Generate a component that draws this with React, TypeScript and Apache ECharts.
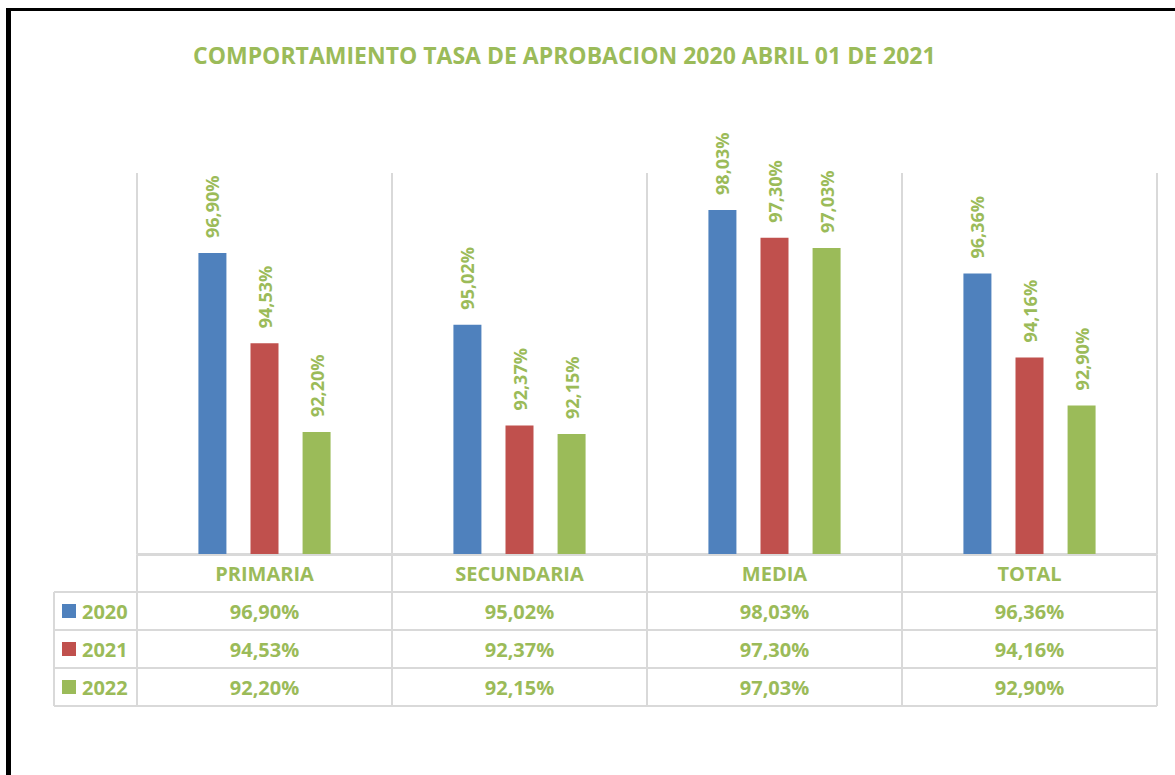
import React, { useEffect, useRef } from "react";
import * as echarts from "echarts";

const TITLE = "COMPORTAMIENTO TASA DE APROBACION 2020 ABRIL 01 DE 2021";
const categories = ["PRIMARIA", "SECUNDARIA", "MEDIA", "TOTAL"];
const years = ["2020", "2021", "2022"];
const values2020 = [96.9, 95.02, 98.03, 96.36];
const values2021 = [94.53, 92.37, 97.3, 94.16];
const values2022 = [92.2, 92.15, 97.03, 92.9];
const seriesValues = [values2020, values2021, values2022];

const COLORS = ["#4F81BD", "#C0504D", "#9BBB59"];
const TEXT_GREEN = "#9BBB59";
const GRID_GREY = "#D9D9D9";
const FONT = "'Open Sans', sans-serif";

const fmt = (v: number) => v.toFixed(2).replace(".", ",") + "%";

export default function App() {
  const ref = useRef<HTMLDivElement>(null);
  useEffect(() => {
    document.body.style.margin = "0";
    const chart = echarts.init(ref.current!, null, { renderer: "svg" });
    const gridLeft = 137;
    const gridTop = 173;
    const gridBottomY = 554;
    const gridRight = 1157;
    chart.setOption({
      animation: false,
      backgroundColor: "#ffffff",
      title: {
        text: TITLE,
        left: 188,
        top: 38,
        textStyle: { color: TEXT_GREEN, fontFamily: FONT, fontWeight: "bold", fontSize: 23 },
      },
      grid: {
        left: gridLeft,
        top: gridTop,
        width: gridRight - gridLeft,
        height: gridBottomY - gridTop,
        containLabel: false,
      },
      xAxis: {
        type: "category",
        data: categories,
        boundaryGap: true,
        axisLine: { show: true, lineStyle: { color: GRID_GREY, width: 2 } },
        axisTick: { show: false },
        axisLabel: {
          show: true,
          margin: 8,
          color: TEXT_GREEN,
          fontFamily: FONT,
          fontWeight: "bold",
          fontSize: 20,
          lineHeight: 22,
        },
        splitLine: { show: true, lineStyle: { color: GRID_GREY, width: 2 } },
      },
      yAxis: {
        type: "value",
        min: 89,
        max: 99,
        show: false,
        splitLine: { show: false },
      },
      series: years.map((y, i) => ({
        name: y,
        type: "bar",
        data: seriesValues[i],
        barWidth: 28,
        barGap: "86%",
        itemStyle: { color: COLORS[i] },
        label: {
          show: true,
          position: "top",
          rotate: 90,
          align: "left",
          verticalAlign: "middle",
          distance: 15,
          color: TEXT_GREEN,
          fontFamily: FONT,
          fontWeight: "bold",
          fontSize: 18,
          formatter: (p: any) => fmt(p.value),
        },
      })),
    });

    // data table built from the axis' own pixel positions
    const centers = categories.map((c) => chart.convertToPixel({ xAxisIndex: 0 }, c) as number);
    const band = centers.length > 1 ? centers[1] - centers[0] : 255;
    const left = centers[0] - band / 2;
    const right = centers[centers.length - 1] + band / 2;
    const headTop = gridBottomY + 1;
    const rowYs = [592, 630, 668, 706];
    const legendLeft = 54;
    const lineStyle = { stroke: GRID_GREY, lineWidth: 2 };
    const g: any[] = [];
    // frame
    g.push({ type: "rect", shape: { x: 6, y: 8, width: 5, height: 775 }, style: { fill: "#000" }, silent: true });
    g.push({ type: "rect", shape: { x: 6, y: 8, width: 1175, height: 3 }, style: { fill: "#000" }, silent: true });
    // horizontal lines
    g.push({ type: "line", shape: { x1: left, y1: headTop, x2: right, y2: headTop }, style: lineStyle });
    rowYs.forEach((y) =>
      g.push({ type: "line", shape: { x1: legendLeft, y1: y, x2: right, y2: y }, style: lineStyle })
    );
    // vertical lines
    g.push({ type: "line", shape: { x1: legendLeft, y1: rowYs[0], x2: legendLeft, y2: rowYs[3] }, style: lineStyle });
    for (let k = 0; k <= categories.length; k++) {
      const x = left + k * band;
      g.push({ type: "line", shape: { x1: x, y1: headTop, x2: x, y2: rowYs[3] }, style: lineStyle });
    }
    // rows
    years.forEach((y, i) => {
      const cy = (rowYs[i] + rowYs[i + 1]) / 2;
      g.push({ type: "rect", shape: { x: 62, y: cy - 7, width: 14, height: 14 }, style: { fill: COLORS[i] } });
      g.push({
        type: "text",
        x: 82,
        y: cy,
        style: {
          text: y,
          fill: TEXT_GREEN,
          font: `bold 20px ${FONT}`,
          textAlign: "left",
          textVerticalAlign: "middle",
        },
      });
      seriesValues[i].forEach((v, j) => {
        g.push({
          type: "text",
          x: centers[j],
          y: cy,
          style: {
            text: fmt(v),
            fill: TEXT_GREEN,
            font: `bold 20px ${FONT}`,
            textAlign: "center",
            textVerticalAlign: "middle",
          },
        });
      });
    });
    chart.setOption({ graphic: g });
    return () => chart.dispose();
  }, []);
  return <div ref={ref} style={{ width: 1175, height: 775 }} />;
}
